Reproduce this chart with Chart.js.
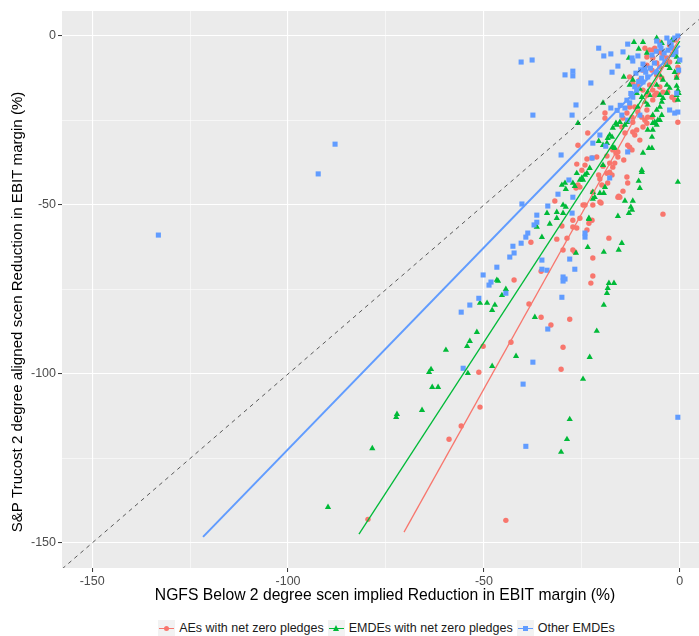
<!DOCTYPE html>
<html>
<head>
<meta charset="utf-8">
<script src="https://cdn.jsdelivr.net/npm/chart.js@4.4.1/dist/chart.umd.min.js"></script>
<style>
  html, body { margin: 0; padding: 0; background: #fff; }
  #wrap { position: relative; width: 699px; height: 636px; }
  #chart { position: absolute; left: 0; top: 0; }
  #legend {
    position: absolute; left: 74px; width: 625px; top: 619px; height: 18px;
    display: flex; justify-content: center; align-items: center;
    font-family: "Liberation Sans", Arial, sans-serif; font-size: 12.5px; color: #1a1a1a;
  }
  .item { display: flex; align-items: center; margin: 0 2px; }
  .key { position: relative; width: 17px; height: 17px; background: #f2f2f2; margin-right: 4px; }
  .key .ln { position: absolute; left: 1px; right: 1px; top: 8px; height: 1px; }
  .key .pt { position: absolute; left: 6px; top: 6px; width: 5px; height: 5px; }
  .key .circle { border-radius: 50%; }
  .key .tri { width: 0; height: 0; left: 5px; top: 5px; background: none !important;
    border-left: 3.5px solid transparent; border-right: 3.5px solid transparent; border-bottom: 6px solid #00BA38; }
</style>
</head>
<body>
<div id="wrap">
  <canvas id="chart" width="699" height="612"></canvas>
  <div id="legend">
    <div class="item"><span class="key"><i class="ln" style="background:#F8766D"></i><i class="pt circle" style="background:#F8766D"></i></span>AEs with net zero pledges</div>
    <div class="item"><span class="key"><i class="ln" style="background:#00BA38"></i><i class="pt tri"></i></span>EMDEs with net zero pledges</div>
    <div class="item"><span class="key"><i class="ln" style="background:#619CFF"></i><i class="pt" style="background:#619CFF"></i></span>Other EMDEs</div>
  </div>
</div>
<script>
// NGFS implied (x) vs S&P Trucost (y) reduction in EBIT margin, %
const aesPoints = [
  [-26.0,-32.3],[-23.5,-28.7],[-19.1,-22.8],[-19.1,-24.3],[-19.6,-38.5],[-21.2,-35.8],[-22.4,-36.1],[-26.3,-37.9],
  [-24.2,-38.2],[-20.7,-41.1],[-18.6,-40.6],[-17.9,-40.3],[-18.4,-43.5],[-15.6,-47.4],[-14.5,-45.9],[-17.1,-33.7],
  [-16.3,-34.6],[-15.8,-35.8],[-16.6,-37.6],[-17.1,-38.8],[-14.3,-36.7],[-0.5,-25.5],[-0.5,-10.7],[-0.8,-12.1],
  [-8.4,-21.9],[-8.2,-24.0],[-10.2,-30.8],[-11.5,-29.3],[-12.0,-28.4],[-12.8,-32.9],[-14.8,-26.9],[-14.5,-24.3],
  [-13.5,-22.8],[-12.8,-21.0],[-5.9,-16.9],[-5.1,-15.1],[-6.9,-18.9],[-12.8,-12.1],[-12.0,-13.9],[-9.4,-10.1],
  [-8.4,-6.2],[-6.9,-4.1],[-5.1,-1.8],[-25.5,-44.7],[-26.5,-45.0],[-22.2,-46.2],[-20.4,-49.1],[-20.1,-49.4],
  [-15.8,-47.7],[-31.9,-48.8],[-24.7,-50.0],[-24.2,-50.0],[-22.2,-50.0],[-4.3,-52.7],[-25.5,-53.9],[-27.3,-54.5],
  [-30.1,-56.2],[-27.3,-56.5],[-26.3,-56.8],[-23.2,-55.4],[-22.4,-54.5],[-23.7,-57.4],[-38.0,-61.0],[-31.4,-60.1],
  [-28.8,-59.8],[-18.1,-59.8],[-29.8,-63.3],[-27.3,-63.3],[-26.8,-63.9],[-22.2,-65.7],[-35.4,-69.6],[-22.2,-71.0],
  [-22.7,-73.1],[-42.3,-72.2],[-38.5,-79.3],[-35.4,-83.2],[-32.9,-85.5],[-28.1,-83.8],[-43.1,-90.6],[-29.8,-92.1],
  [-50.2,-91.8],[-51.3,-99.5],[-30.3,-98.6],[-51.0,-109.8],[-55.8,-115.4],[-58.9,-119.3],[-79.6,-143.0],[-44.4,-143.3],
  [-23.7,-36.4],[-25.0,-39.7],[-26.0,-44.1],[-18.6,-35.5],[-15.8,-34.3],[-17.9,-37.6],[-17.3,-41.1],[-20.4,-42.3],
  [-19.9,-44.1],[-13.5,-41.7],[-13.3,-43.5],[-9.4,-26.9],[-8.4,-25.8],[-15.3,-47.7],[-11.0,-27.8],[-14.0,-28.7],
  [-13.3,-32.3],[-12.2,-33.7],[-8.9,-3.6],[-7.7,-4.1],[-6.4,-3.6],[-5.1,-4.7],[-4.3,-5.6],[-3.3,-6.5],
  [-2.6,-7.7],[-6.9,-6.5],[-5.9,-8.0],[-5.1,-9.2],[-8.4,-8.6],[-7.1,-10.1],[-5.9,-11.5],[-4.6,-12.4],
  [-7.7,-14.5],[-6.9,-16.0],[-6.4,-17.5],[-9.4,-16.0],[-8.4,-17.5],[-10.7,-14.5],[-10.2,-13.0],[-4.3,-16.6],
  [-3.1,-16.6],[-2.0,-18.1],[-1.3,-18.9],[-0.5,-9.2],[-11.5,-21.0],[-10.7,-22.5],[-9.7,-24.0],[-8.9,-24.9],
  [-12.2,-24.0],[-12.0,-25.5],[-7.1,-24.0],[-2.6,-2.7],[-1.3,-1.2]
];

const emdeNzPoints = [
  [-11.7,-1.8],[-9.4,-1.8],[-10.5,-3.8],[-8.4,-5.0],[-5.9,-0.6],[-4.6,-2.1],[-2.0,-1.2],[-14.3,-12.1],
  [-19.6,-19.8],[-26.0,-25.8],[-17.1,-27.2],[-16.1,-26.3],[-15.3,-25.5],[-5.9,-26.3],[-6.9,-25.8],[-5.1,-24.9],
  [-7.1,-29.9],[-7.9,-33.2],[-7.1,-33.2],[-9.4,-34.6],[-9.7,-39.7],[-9.7,-40.3],[-10.5,-42.9],[-10.2,-45.0],
  [-0.5,-43.2],[-20.7,-31.1],[-19.6,-32.3],[-18.6,-31.7],[-18.4,-30.2],[-23.0,-39.1],[-23.7,-40.6],[-25.5,-42.6],
  [-27.3,-43.5],[-29.3,-43.5],[-29.1,-45.3],[-20.4,-46.5],[-19.4,-46.5],[-22.2,-46.2],[-0.5,-16.0],[-0.8,-17.5],
  [-0.3,-16.9],[-0.5,-18.9],[-0.8,-14.8],[-4.3,-18.4],[-4.6,-19.5],[-3.3,-16.9],[-5.9,-21.9],[-5.1,-21.0],
  [-10.2,-15.7],[-11.0,-16.9],[-12.0,-13.0],[-12.8,-14.5],[-26.8,-44.4],[-24.7,-42.6],[-21.7,-47.7],[-22.2,-48.2],
  [-19.1,-44.7],[-29.8,-50.0],[-29.1,-50.6],[-31.4,-52.1],[-33.9,-52.4],[-31.4,-53.9],[-33.2,-55.6],[-36.5,-56.5],
  [-35.2,-59.5],[-14.0,-48.8],[-12.0,-48.8],[-12.5,-50.6],[-12.2,-51.5],[-13.0,-52.4],[-15.8,-53.3],[-23.5,-62.5],
  [-26.5,-64.2],[-19.4,-63.9],[-15.6,-63.3],[-14.8,-61.3],[-18.1,-73.1],[-16.8,-73.1],[-18.4,-74.6],[-18.6,-76.1],
  [-19.4,-79.6],[-21.2,-87.3],[-23.0,-95.0],[-37.0,-83.2],[-46.4,-72.5],[-46.7,-72.2],[-44.4,-74.9],[-45.4,-76.7],
  [-51.0,-79.0],[-49.2,-79.0],[-47.2,-79.6],[-47.9,-81.1],[-51.8,-87.6],[-53.6,-90.3],[-54.3,-91.8],[-59.7,-92.9],
  [-63.5,-98.6],[-64.0,-99.5],[-41.8,-94.7],[-47.9,-97.7],[-54.1,-99.8],[-24.7,-101.5],[-63.2,-103.9],[-61.7,-103.9],
  [-65.8,-110.7],[-72.2,-111.9],[-72.4,-112.8],[-78.5,-122.0],[-89.8,-139.4],[-28.1,-113.4],[-28.8,-119.3],[-30.3,-123.1],
  [-23.2,-54.2],[-16.3,-25.8],[-14.0,-26.3],[-13.5,-25.5],[-8.2,-27.8],[-6.9,-27.8],[-17.9,-29.3],[-17.3,-29.9],
  [-17.1,-32.9],[-16.6,-33.2],[-19.6,-38.2],[-24.2,-41.1],[-25.0,-42.0],[-26.3,-40.6],[-30.1,-44.1],[-23.2,-53.9],
  [-29.8,-52.4],[-1.3,-5.0],[-0.8,-6.2],[-0.5,-7.7],[-3.3,-8.6],[-2.6,-9.5],[-1.3,-10.7],[-0.8,-12.4],
  [-5.1,-11.5],[-4.3,-13.0],[-3.3,-14.5],[-2.6,-15.4],[-5.9,-14.5],[-5.1,-17.5],[-8.2,-16.6],[-7.7,-17.5],
  [-9.7,-18.1],[-8.9,-19.5],[-8.2,-20.4],[-10.7,-21.0],[-4.6,-23.4],[-5.6,-24.9],[-6.9,-23.4],[-6.4,-25.5],
  [-13.0,-6.5]
];

const otherPoints = [
  [-133.1,-58.9],[-92.3,-40.8],[-88.0,-32.0],[-40.5,-7.7],[-37.7,-7.1],[-29.3,-11.5],[-27.3,-10.4],[-27.3,-11.8],
  [-22.7,-13.9],[-37.5,-23.4],[-27.5,-23.4],[-26.5,-20.4],[-20.7,-3.6],[-19.4,-5.9],[-17.6,-5.3],[-14.5,-4.7],
  [-13.3,-2.4],[-17.3,-10.7],[-15.8,-8.9],[-12.2,-6.5],[-12.0,-7.4],[-10.7,-5.9],[-9.4,-8.3],[-8.9,-9.5],
  [-5.9,-1.5],[-3.3,-0.6],[-2.6,-1.8],[-1.3,-0.6],[-0.5,0.0],[-8.7,-10.7],[-8.2,-12.1],[-9.4,-13.6],
  [-11.0,-16.0],[-12.0,-18.1],[-12.8,-19.8],[-14.0,-21.3],[-14.8,-23.4],[-0.8,-16.9],[-0.5,-22.5],[-1.3,-22.8],
  [-2.6,-21.9],[-5.9,-10.7],[-4.6,-6.5],[-3.8,-7.7],[-10.2,-23.4],[-13.3,-24.9],[-17.6,-21.3],[-20.4,-29.3],
  [-22.2,-31.7],[-18.9,-32.6],[-13.3,-34.3],[-22.4,-36.1],[-30.3,-35.2],[-28.3,-42.6],[-31.1,-46.8],[-17.9,-42.0],
  [-27.3,-47.7],[-40.3,-49.7],[-33.7,-50.3],[-27.5,-52.4],[-36.5,-53.0],[-36.5,-55.1],[-37.2,-55.9],[-38.8,-58.3],
  [-39.3,-59.5],[-40.5,-61.3],[-42.6,-62.2],[-42.3,-64.2],[-43.4,-65.4],[-35.2,-66.3],[-28.1,-66.0],[-46.7,-68.4],
  [-35.2,-69.0],[-33.9,-69.3],[-26.8,-69.0],[-24.2,-58.3],[-24.2,-59.5],[-29.8,-71.3],[-29.3,-71.9],[-29.8,-72.5],
  [-50.2,-70.7],[-48.2,-72.8],[-48.7,-73.7],[-44.4,-76.1],[-51.3,-77.6],[-53.6,-79.6],[-55.8,-81.7],[-30.1,-77.3],
  [-33.7,-86.7],[-37.5,-96.5],[-55.3,-98.3],[-40.0,-103.0],[-39.3,-121.4],[-0.5,-112.8],[-7.1,-5.6],[-5.1,-2.7],
  [-2.0,-3.6],[-1.0,-4.7],[0.0,-7.1],[-0.3,-10.1],[-13.5,-19.0],[-12.5,-17.0],[-11.5,-15.0],[-10.5,-13.5],
  [-9.8,-12.5],[-7.5,-9.5],[-6.5,-8.0],[-4.0,-5.0],[-3.0,-4.2],[-2.2,-2.5],[-1.8,-5.5],[-16.0,-22.0],
  [-15.2,-20.5],[-11.2,-11.0],[-10.0,-10.0],[-6.0,-4.5],[-4.8,-3.6]
];

// fitted lines, one per group: [x, y] at both ends
const aesFit = [[-70.4,-146.8],[0,-0.5]];
const emdeNzFit = [[-81.9,-147.4],[0,-1.5]];
const otherFit = [[-121.7,-148.2],[0,-2.9]];
const identityLine = [[-170,-170],[20,20]];

const xTicks = [-150,-125,-100,-75,-50,-25,0];
const yTicks = [-150,-125,-100,-75,-50,-25,0];

const xTitle = 'NGFS Below 2 degree scen implied Reduction in EBIT margin (%)';
const yTitle = 'S&P Trucost 2 degree aligned scen Reduction in EBIT margin (%)';

const RED = '#F8766D', GREEN = '#00BA38', BLUE = '#619CFF';
const FONT = '"Liberation Sans", Arial, sans-serif';
const toXY = arr => arr.map(p => ({x: p[0], y: p[1]}));

// grey panel behind the grid
const panelBg = {
  id: 'panelBg',
  beforeDraw(chart) {
    const {ctx, chartArea: a} = chart;
    ctx.save();
    ctx.fillStyle = '#EBEBEB';
    ctx.fillRect(a.left, a.top, a.right - a.left, a.bottom - a.top);
    ctx.restore();
  }
};

// axis titles
const axisTitles = {
  id: 'axisTitles',
  afterDraw(chart) {
    const {ctx} = chart;
    ctx.save();
    ctx.fillStyle = '#000000';
    ctx.textAlign = 'center';
    ctx.textBaseline = 'middle';
    ctx.font = '15.7px ' + FONT;
    ctx.fillText(xTitle, 385, 596);
    ctx.font = '15.1px ' + FONT;
    ctx.translate(18, 312);
    ctx.rotate(-Math.PI / 2);
    ctx.fillText(yTitle, 0, 0);
    ctx.restore();
  }
};

const isMajor = v => v % 50 === 0;
function axis(ticksList, min, max, fitFn) {
  return {
    type: 'linear', min: min, max: max,
    afterBuildTicks: s => { s.ticks = ticksList.map(v => ({value: v})); },
    afterFit: fitFn,
    border: {display: false},
    grid: {
      color: '#FFFFFF',
      lineWidth: c => isMajor(c.tick.value) ? 1.1 : 0.55,
      drawTicks: true, tickLength: 4,
      tickColor: c => isMajor(c.tick.value) ? '#333333' : 'rgba(0,0,0,0)',
      tickWidth: 1
    },
    ticks: {
      color: '#4D4D4D', padding: 2,
      font: {family: FONT, size: 12.5},
      callback: v => isMajor(v) ? String(v) : ''
    },
    title: {display: false}
  };
}

new Chart(document.getElementById('chart'), {
  type: 'scatter',
  data: {
    datasets: [
      {data: toXY(identityLine), type: 'line', showLine: true, pointRadius: 0, borderColor: '#333333', borderWidth: 0.8, borderDash: [4, 4], order: 0},
      {data: toXY(aesFit), type: 'line', showLine: true, pointRadius: 0, borderColor: RED, borderWidth: 1.3, order: 1},
      {data: toXY(emdeNzFit), type: 'line', showLine: true, pointRadius: 0, borderColor: GREEN, borderWidth: 1.3, order: 1},
      {data: toXY(otherFit), type: 'line', showLine: true, pointRadius: 0, borderColor: BLUE, borderWidth: 2, order: 1},
      {data: toXY(otherPoints), pointStyle: 'rect', pointRadius: 3.6, backgroundColor: BLUE, borderWidth: 0, order: 2},
      {data: toXY(emdeNzPoints), pointStyle: 'triangle', pointRadius: 3.6, backgroundColor: GREEN, borderWidth: 0, order: 3},
      {data: toXY(aesPoints), pointStyle: 'circle', pointRadius: 2.7, backgroundColor: RED, borderWidth: 0, order: 4}
    ]
  },
  options: {
    responsive: false,
    animation: false,
    devicePixelRatio: 1,
    layout: {autoPadding: false, padding: {left: 0, right: 0, top: 11, bottom: 0}},
    plugins: {legend: {display: false}, tooltip: {enabled: false}},
    scales: {
      x: axis(xTicks, -157.7, 4.9, s => { s.height = 44; }),
      y: axis(yTicks, -157.4, 7.4, s => { s.width = 62; })
    }
  },
  plugins: [panelBg, axisTitles]
});
</script>
</body>
</html>
